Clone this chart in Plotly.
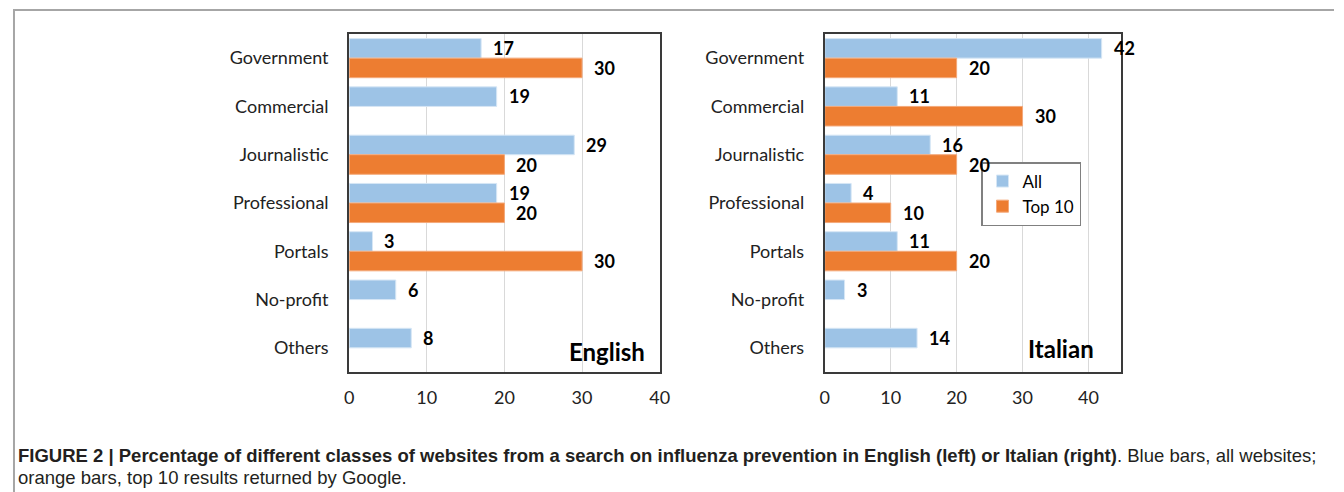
import plotly.graph_objects as go

categories = ["Government", "Commercial", "Journalistic", "Professional", "Portals", "No-profit", "Others"]
english_all = [17, 19, 29, 19, 3, 6, 8]
english_top10 = [30, None, 20, 20, 30, None, None]
italian_all = [42, 11, 16, 4, 11, 3, 14]
italian_top10 = [20, 30, 20, 10, 20, None, None]
x_ticks = [0, 10, 20, 30, 40]
series_names = ["All", "Top 10"]
panel_titles = ["English", "Italian"]

BLUE = "#9DC3E6"
ORANGE = "#ED7D31"
# the page body has an 8px margin, so the figure starts at page pixel (8, 8)
OFF = 8
W, H = 1344 - OFF, 492 - OFF
FONT = "Lato"

def px_x(p):
    return (p - OFF) / W

def px_y(p):
    return 1 - (p - OFF) / H

fig = go.Figure()

panels = [
    ("x", "y", english_all, english_top10, False),
    ("x2", "y2", italian_all, italian_top10, True),
]
for xa, ya, a_vals, t_vals, show in panels:
    fig.add_trace(go.Bar(
        y=categories, x=a_vals, orientation="h", name=series_names[0],
        marker=dict(color=BLUE, line=dict(color="#d6e6f5", width=1)),
        xaxis=xa, yaxis=ya, showlegend=show, hoverinfo="x+y",
    ))
    fig.add_trace(go.Bar(
        y=categories, x=t_vals, orientation="h", name=series_names[1],
        marker=dict(color=ORANGE, line=dict(color="#f4a97a", width=1)),
        xaxis=xa, yaxis=ya, showlegend=show, hoverinfo="x+y",
    ))

label_font = dict(family=FONT, size=18, color="#000")
annotations = []
for xa, ya, a_vals, t_vals, _ in panels:
    for cat, v in zip(categories, a_vals):
        if v is not None:
            annotations.append(dict(x=v, y=cat, xref=xa, yref=ya, text="<b>%d</b>" % v,
                                    showarrow=False, xanchor="left", xshift=10, yshift=10,
                                    font=label_font))
    for cat, v in zip(categories, t_vals):
        if v is not None:
            annotations.append(dict(x=v, y=cat, xref=xa, yref=ya, text="<b>%d</b>" % v,
                                    showarrow=False, xanchor="left", xshift=10, yshift=-10,
                                    font=label_font))

annotations.append(dict(x=px_x(649), y=px_y(351), xref="paper", yref="paper",
                        text="<b>%s</b>" % panel_titles[0], showarrow=False,
                        xanchor="right", yanchor="middle",
                        font=dict(family=FONT, size=24, color="#000")))
annotations.append(dict(x=px_x(1103), y=px_y(348), xref="paper", yref="paper",
                        text="<b>%s</b>" % panel_titles[1], showarrow=False,
                        xanchor="right", yanchor="middle",
                        font=dict(family=FONT, size=24, color="#000")))

cap_font = dict(family="Liberation Sans, Arial", size=18.5, color="#231f20")
annotations.append(dict(x=px_x(11), y=px_y(455), xref="paper", yref="paper",
                        text="<b>FIGURE 2 | Percentage of different classes of websites from a search on influenza prevention in English (left) or Italian (right)</b>. Blue bars, all websites;",
                        showarrow=False, xanchor="left", yanchor="middle", font=cap_font))
annotations.append(dict(x=px_x(11), y=px_y(477), xref="paper", yref="paper",
                        text="orange bars, top 10 results returned by Google.",
                        showarrow=False, xanchor="left", yanchor="middle", font=cap_font))

axis_common = dict(showline=True, mirror=True, linecolor="#3a3a3a", linewidth=2,
                   ticks="", zeroline=False, fixedrange=True)
xaxis_common = dict(axis_common, showgrid=True, gridcolor="#d9d9d9", gridwidth=1,
                    tickvals=x_ticks, ticklabelstandoff=8,
                    tickfont=dict(family=FONT, size=18, color="#222"))
yaxis_common = dict(axis_common, showgrid=False, type="category",
                    categoryorder="array", categoryarray=categories,
                    range=[6.5, -0.5], ticklabelstandoff=15,
                    tickfont=dict(family=FONT, size=18, color="#222"))

fig.update_layout(
    width=W, height=H,
    margin=dict(l=0, r=0, t=0, b=0),
    paper_bgcolor="white", plot_bgcolor="white",
    barmode="group", bargap=0.19, bargroupgap=0,
    xaxis=dict(xaxis_common, domain=[px_x(348), px_x(662)], range=[0, 40]),
    yaxis=dict(yaxis_common, domain=[px_y(372), px_y(34)], anchor="x"),
    xaxis2=dict(xaxis_common, domain=[px_x(829), px_x(1129)], range=[0, 45], anchor="y2"),
    yaxis2=dict(yaxis_common, domain=[px_y(372), px_y(34)], anchor="x2"),
    legend=dict(x=px_x(987), y=px_y(162), xanchor="left", yanchor="top",
                bordercolor="#808080", borderwidth=1.5, bgcolor="white",
                tracegroupgap=0, font=dict(family=FONT, size=17, color="#000"),
                traceorder="normal"),
    annotations=annotations,
    shapes=[
        dict(type="line", xref="paper", yref="paper", x0=px_x(8), x1=1, y0=px_y(10), y1=px_y(10),
             line=dict(color="#a6a6a6", width=2)),
        dict(type="line", xref="paper", yref="paper", x0=px_x(8) + 1 / W, x1=px_x(8) + 1 / W,
             y0=px_y(10), y1=0, line=dict(color="#a6a6a6", width=2)),
    ],
)

fig.write_html("out.html")
